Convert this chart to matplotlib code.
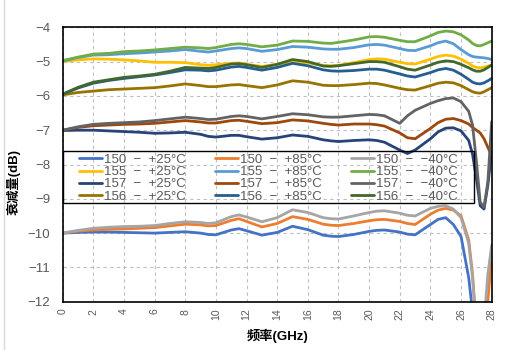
import matplotlib
matplotlib.use("Agg")
import matplotlib.pyplot as plt
from matplotlib.lines import Line2D
from matplotlib.patches import Rectangle

plt.rcParams['font.family'] = ['Liberation Sans', 'Noto Sans CJK SC', 'DejaVu Sans']
plt.rcParams['axes.unicode_minus'] = True

# Frequency (GHz)
freq = [0, 1, 2, 3, 4, 5, 6, 7, 8,
        9, 9.5, 10, 11, 11.5, 12, 13, 14, 15, 16,
        17, 17.5, 18, 19, 20, 20.5, 21, 22, 22.5, 23,
        24, 24.5, 25, 25.5, 26, 26.5, 26.75, 27, 27.25, 27.5, 27.75, 28]

labels = ["150  −  +25°C", "150  −  +85°C", "150  −  −40°C",
          "155  −  +25°C", "155  −  +85°C", "155  −  −40°C",
          "157  −  +25°C", "157  −  +85°C", "157  −  −40°C",
          "156  −  +25°C", "156  −  +85°C", "156  −  −40°C"]

colors = ["#4472c4", "#ed7d31", "#a5a5a5",
          "#ffc000", "#5b9bd5", "#70ad47",
          "#264478", "#9e480e", "#636363",
          "#997300", "#255e91", "#43682b"]

s150_p25 = [-10.00, -9.98, -9.97, -9.97, -9.98, -9.99, -10.00, -9.98, -9.96,
            -10.00, -10.04, -10.05, -9.91, -9.87, -9.93, -10.06, -9.98, -9.80, -9.90,
            -10.06, -10.09, -10.10, -10.04, -9.95, -9.92, -9.91, -9.97, -10.03, -10.05,
            -9.75, -9.60, -9.55, -9.75, -10.10, -11.30, -12.30, -13.50, -14.00, -14.00, -13.50, -12.80]
s150_p85 = [-10.00, -9.94, -9.91, -9.89, -9.88, -9.86, -9.84, -9.79, -9.74,
            -9.76, -9.79, -9.78, -9.63, -9.58, -9.66, -9.82, -9.72, -9.52, -9.60,
            -9.74, -9.77, -9.78, -9.72, -9.64, -9.61, -9.60, -9.66, -9.72, -9.75,
            -9.45, -9.33, -9.28, -9.33, -9.50, -10.20, -11.20, -12.80, -13.80, -13.50, -12.00, -10.55]
s150_m40 = [-10.00, -9.92, -9.86, -9.83, -9.81, -9.80, -9.78, -9.72, -9.67,
            -9.69, -9.72, -9.70, -9.52, -9.47, -9.53, -9.67, -9.55, -9.32, -9.40,
            -9.55, -9.58, -9.59, -9.50, -9.40, -9.36, -9.35, -9.42, -9.48, -9.50,
            -9.28, -9.22, -9.20, -9.30, -9.55, -10.30, -11.30, -12.80, -13.50, -12.60, -11.20, -10.35]
s155_p25 = [-5.00, -4.95, -4.92, -4.93, -4.95, -4.98, -5.02, -5.02, -5.03,
            -5.09, -5.11, -5.09, -5.05, -5.04, -5.08, -5.14, -5.08, -5.00, -5.04,
            -5.11, -5.12, -5.11, -5.03, -4.94, -4.92, -4.93, -5.02, -5.06, -5.07,
            -4.93, -4.85, -4.81, -4.84, -4.93, -5.05, -5.13, -5.17, -5.18, -5.16, -5.13, -5.10]
s155_p85 = [-4.99, -4.88, -4.81, -4.80, -4.77, -4.75, -4.72, -4.69, -4.65,
            -4.70, -4.72, -4.69, -4.62, -4.60, -4.62, -4.70, -4.65, -4.56, -4.58,
            -4.63, -4.64, -4.64, -4.59, -4.51, -4.50, -4.52, -4.62, -4.67, -4.68,
            -4.54, -4.45, -4.40, -4.48, -4.65, -4.80, -4.85, -4.87, -4.88, -4.89, -4.91, -4.94]
s155_m40 = [-4.97, -4.87, -4.78, -4.76, -4.71, -4.69, -4.66, -4.62, -4.58,
            -4.60, -4.62, -4.59, -4.50, -4.48, -4.50, -4.57, -4.52, -4.40, -4.41,
            -4.46, -4.47, -4.44, -4.37, -4.28, -4.27, -4.29, -4.38, -4.42, -4.42,
            -4.25, -4.15, -4.11, -4.13, -4.22, -4.37, -4.47, -4.53, -4.54, -4.50, -4.45, -4.40]
s157_p25 = [-7.01, -7.00, -7.00, -7.02, -7.04, -7.06, -7.09, -7.08, -7.06,
            -7.12, -7.18, -7.20, -7.15, -7.15, -7.19, -7.26, -7.22, -7.14, -7.18,
            -7.28, -7.31, -7.33, -7.30, -7.28, -7.30, -7.35, -7.58, -7.68, -7.58,
            -7.25, -7.05, -6.94, -6.93, -7.02, -7.30, -7.70, -8.40, -9.20, -9.30, -8.60, -7.60]
s157_p85 = [-7.00, -6.92, -6.87, -6.85, -6.83, -6.82, -6.80, -6.76, -6.72,
            -6.76, -6.79, -6.79, -6.72, -6.71, -6.74, -6.81, -6.78, -6.70, -6.73,
            -6.80, -6.83, -6.85, -6.82, -6.82, -6.84, -6.88, -7.08, -7.22, -7.25,
            -6.95, -6.78, -6.68, -6.66, -6.72, -6.82, -6.92, -7.00, -7.08, -7.25, -7.50, -7.75]
s157_m40 = [-7.00, -6.90, -6.83, -6.80, -6.78, -6.76, -6.72, -6.67, -6.62,
            -6.66, -6.69, -6.68, -6.60, -6.58, -6.60, -6.67, -6.60, -6.52, -6.55,
            -6.61, -6.62, -6.62, -6.58, -6.54, -6.55, -6.58, -6.80, -6.58, -6.42,
            -6.22, -6.14, -6.08, -6.06, -6.17, -6.45, -6.85, -7.90, -9.10, -9.25, -8.50, -6.75]
s156_p25 = [-5.97, -5.90, -5.86, -5.82, -5.80, -5.78, -5.76, -5.71, -5.65,
            -5.70, -5.73, -5.73, -5.68, -5.67, -5.70, -5.76, -5.68, -5.56, -5.60,
            -5.69, -5.70, -5.70, -5.67, -5.63, -5.64, -5.68, -5.78, -5.82, -5.83,
            -5.70, -5.63, -5.60, -5.62, -5.70, -5.82, -5.88, -5.91, -5.92, -5.88, -5.82, -5.76]
s156_p85 = [-5.95, -5.77, -5.63, -5.55, -5.49, -5.44, -5.39, -5.32, -5.24,
            -5.25, -5.27, -5.25, -5.16, -5.14, -5.17, -5.25, -5.17, -5.05, -5.12,
            -5.24, -5.27, -5.28, -5.26, -5.22, -5.22, -5.25, -5.36, -5.42, -5.45,
            -5.32, -5.24, -5.20, -5.25, -5.37, -5.52, -5.60, -5.64, -5.65, -5.62, -5.56, -5.49]
s156_m40 = [-5.95, -5.75, -5.60, -5.53, -5.46, -5.42, -5.37, -5.28, -5.17,
            -5.19, -5.20, -5.17, -5.07, -5.06, -5.09, -5.17, -5.08, -4.94, -5.00,
            -5.13, -5.14, -5.12, -5.06, -5.00, -5.00, -5.02, -5.15, -5.22, -5.25,
            -5.10, -5.02, -4.98, -5.00, -5.08, -5.18, -5.24, -5.28, -5.28, -5.24, -5.17, -5.10]

series = [s150_p25, s150_p85, s150_m40,
          s155_p25, s155_p85, s155_m40,
          s157_p25, s157_p85, s157_m40,
          s156_p25, s156_p85, s156_m40]

xticks = list(range(0, 29, 2))
yticks = list(range(-12, -3))

W, H = 509, 350
fig = plt.figure(figsize=(W / 100, H / 100), dpi=100)
ax = fig.add_axes([0.1232, 0.138, 0.8428, 0.784])

handles = []
for ys, c, lab in zip(series, colors, labels):
    n = min(len(freq), len(ys))
    h, = ax.plot(freq[:n], ys[:n], color=c, lw=2.0, label=lab,
                 solid_capstyle='round', solid_joinstyle='round')
    handles.append(h)

ax.set_xlim(0, 28)
ax.set_ylim(-12, -4)
ax.set_xticks(xticks)
ax.set_yticks(yticks)
ax.tick_params(axis='x', labelsize=7.5, labelrotation=90, length=0, pad=5,
               labelcolor='#595959')
ax.tick_params(axis='y', labelsize=9.5, length=0, pad=9, labelcolor='#595959')
ax.grid(True, color='#bfbfbf', linestyle=(0, (3, 3)), lw=0.8)
ax.set_axisbelow(True)
for sp in ax.spines.values():
    sp.set_color('black')
    sp.set_linewidth(1.2)

ax.set_xlabel('频率(GHz)', fontsize=9.5, fontweight='bold', labelpad=6)
ax.set_ylabel('衰减量(dB)', fontsize=9.5, fontweight='bold')
ax.yaxis.set_label_coords(-0.097, 0.436)

order = [i for c in range(3) for i in range(c, 12, 3)]
leg_top = 0.549
leg = ax.legend([handles[i] for i in order], [labels[i] for i in order],
                ncol=3, loc='upper left', bbox_to_anchor=(0.032, leg_top),
                borderaxespad=0, fontsize=9.5, labelspacing=0.0,
                borderpad=0.2, handlelength=1.75, handletextpad=0.15,
                columnspacing=2.2, frameon=False)
for t in leg.get_texts():
    t.set_color('#595959')

# Legend frame spanning from the axes' left edge
fig.canvas.draw()
bb = leg.get_window_extent()
axbb = ax.get_window_extent()
x0 = axbb.x0
x1 = bb.x1 + 14
y1 = axbb.y0 + leg_top * axbb.height
y0 = bb.y0 + 2
inv = fig.transFigure.inverted()
(fx0, fy0), (fx1, fy1) = inv.transform([(x0, y0), (x1, y1)])
fig.add_artist(Rectangle((fx0, fy0), fx1 - fx0, fy1 - fy0, transform=fig.transFigure,
                         facecolor='none', edgecolor='black', lw=1.0, zorder=5))

fig.add_artist(Line2D([3.5 / W, 3.5 / W], [0, 1], transform=fig.transFigure,
                      color='#d9d9d9', lw=1))

fig.savefig('out.png', dpi=100)
